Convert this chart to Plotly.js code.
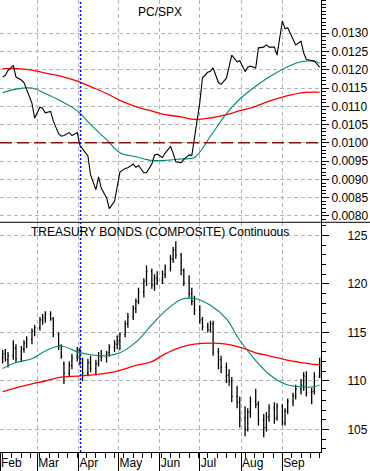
<!DOCTYPE html>
<html>
<head>
<meta charset="utf-8">
<script src="https://cdn.plot.ly/plotly-3.0.1.min.js"></script>
<style>html,body{margin:0;padding:0;background:#fff;}#chart{width:370px;height:471px;}</style>
</head>
<body>
<div id="chart"></div>
<script>
// ---- Data ----
// Every other trading day from 2003-02-03 to 2003-09-29
const firstTradingDay = '2003-02-03';
const barCount = 86;

// Treasury bonds (composite) OHLC
const bondOpen = [112.4,112.8,112.2,112.6,113.4,112.3,113.3,113.9,114.3,115.1,115.5,116.3,116.5,116.9,116.4,114.8,113.6,111.8,110.8,111.6,112.4,113.2,111.9,110.8,111.9,111.3,111.8,112.6,112.4,112.9,113.5,113.8,114.2,114.8,115.9,116.6,117.5,118.2,119.2,120.3,121.3,119.9,120.6,120.4,121.0,121.6,122.6,123.5,123.0,121.4,120.2,119.0,118.2,117.3,116.3,115.6,115.3,115.9,113.0,112.2,111.4,110.6,110.0,108.4,107.8,106.2,105.0,106.8,107.9,107.6,106.0,105.2,106.3,107.2,106.2,107.4,105.6,106.9,107.9,108.5,109.2,109.6,110.5,108.8,108.9,110.5];
const bondHigh = [113.2,113.3,113.0,114.2,113.8,113.6,114.2,114.6,115.4,115.8,116.6,116.9,117.2,117.2,116.6,115.0,113.8,112.0,112.0,112.8,113.5,113.4,112.4,112.3,112.6,112.2,113.0,113.2,113.1,113.8,114.2,114.7,115.0,116.2,117.0,117.8,118.5,119.6,120.6,121.9,121.6,121.0,121.3,121.4,122.0,123.0,123.8,124.4,123.2,121.6,120.9,119.6,118.8,117.8,116.6,116.0,116.2,116.2,113.4,112.6,111.9,111.2,110.4,109.5,108.4,107.4,107.2,108.4,109.2,107.9,106.6,106.8,107.6,107.8,107.7,107.6,107.2,108.2,108.8,109.6,110.2,110.9,111.0,109.3,110.9,112.4];
const bondLow = [111.8,112.0,111.4,112.2,111.9,112.0,112.9,113.4,113.8,114.6,115.2,115.8,116.0,116.2,114.5,113.2,112.3,109.7,110.4,111.2,112.0,111.6,110.0,110.5,110.9,110.6,111.5,112.0,111.9,112.5,113.0,113.3,113.2,114.5,115.5,116.3,117.0,117.9,118.6,119.8,119.5,119.3,119.9,120.0,120.6,121.3,122.2,122.6,120.9,119.8,118.6,117.8,116.8,115.9,115.2,115.0,115.0,112.6,111.2,110.8,109.8,109.5,107.8,107.2,105.2,104.3,104.8,106.2,107.2,105.4,104.2,104.8,105.8,105.6,105.9,105.4,105.4,106.6,107.4,108.1,108.6,109.0,108.4,107.6,108.6,110.3];
const bondClose = [112.8,112.2,112.6,113.4,112.3,113.3,113.9,114.3,115.1,115.5,116.3,116.5,116.9,116.4,114.8,113.6,112.6,110.8,111.6,112.4,113.2,111.9,110.8,111.9,111.3,111.8,112.6,112.4,112.9,113.5,113.8,114.2,114.8,115.9,116.6,117.5,118.2,119.2,120.3,121.3,119.9,120.6,120.4,121.0,121.6,122.6,123.5,123.0,121.4,120.2,119.0,118.2,117.3,116.3,115.6,115.3,115.9,113.0,112.2,111.4,110.6,110.0,108.4,107.8,106.2,105.0,106.8,107.9,107.6,106.0,105.2,106.3,107.2,106.2,107.4,105.8,106.9,107.9,108.5,109.2,109.6,110.5,108.8,108.9,110.5,111.6];

// PC/SPX ratio
const ratio = [0.01180,0.01185,0.01198,0.01212,0.01180,0.01172,0.01165,0.01145,0.01108,0.01068,0.01098,0.01094,0.01082,0.01086,0.01060,0.01025,0.01018,0.01020,0.01028,0.01020,0.01028,0.00993,0.00983,0.00964,0.00912,0.00872,0.00907,0.00876,0.00850,0.00820,0.00840,0.00885,0.00920,0.00930,0.00932,0.00942,0.00933,0.00938,0.00918,0.00918,0.00942,0.00966,0.00969,0.00960,0.00972,0.00990,0.00972,0.00948,0.00946,0.00955,0.00967,0.00965,0.01015,0.01110,0.01178,0.01193,0.01196,0.01205,0.01165,0.01160,0.01177,0.01210,0.01240,0.01222,0.01225,0.01195,0.01207,0.01210,0.01205,0.01260,0.01262,0.01268,0.01262,0.01262,0.01240,0.01334,0.01312,0.01315,0.01284,0.01268,0.01278,0.01246,0.01228,0.01224,0.01224,0.01207];

// Moving averages, sampled every 4th bar (plus the last bar)
const maStep = 4;
const ratioMaFast = [0.01137,0.01147,0.01150,0.01135,0.01114,0.01088,0.01050,0.01009,0.00973,0.00962,0.00952,0.00952,0.00956,0.00960,0.01018,0.01080,0.01120,0.01155,0.01180,0.01205,0.01222,0.01223,0.01218];
const ratioMaSlow = [0.01203,0.01203,0.01199,0.01191,0.01182,0.01169,0.01154,0.01135,0.01116,0.01099,0.01087,0.01077,0.01071,0.01064,0.01068,0.01077,0.01088,0.01100,0.01114,0.01127,0.01137,0.01139,0.01139];
const bondMaFast = [111.3,111.9,112.3,113.1,113.6,113.0,112.7,112.6,112.9,114.0,115.8,117.2,118.4,118.5,117.8,116.4,114.2,112.1,110.7,109.7,109.4,109.4,109.6];
const bondMaSlow = [108.9,109.3,109.7,110.0,110.4,110.5,110.6,110.8,111.1,111.6,112.0,112.8,113.5,113.8,113.9,113.8,113.5,112.9,112.6,112.2,111.9,111.7,111.7];

// Axis tick labels
const ratioTicks = [0.0080,0.0085,0.0090,0.0095,0.0100,0.0105,0.0110,0.0115,0.0120,0.0125,0.0130];
const bondTicks = [105,110,115,120,125];

const refLevel = 0.0100;
const markerDate = '2003-04-02 12:00';
const xRange = ['2003-02-01', '2003-09-30'];
const topTitle = 'PC/SPX';
const bottomTitle = 'TREASURY BONDS (COMPOSITE) Continuous';

// ---- Build dates (every other weekday) ----
function everyOtherWeekday(start, n) {
  const out = [];
  const d = new Date(start + 'T12:00:00Z');
  let count = 0;
  while (out.length < n) {
    const wd = d.getUTCDay();
    if (wd !== 0 && wd !== 6) {
      if (count % 2 === 0) out.push(d.toISOString().slice(0, 10));
      count++;
    }
    d.setUTCDate(d.getUTCDate() + 1);
  }
  return out;
}
const dates = everyOtherWeekday(firstTradingDay, barCount);
const maDates = ratioMaFast.map((_, i) => dates[Math.min(i * maStep, dates.length - 1)]);

const FONT = 'Arial, "Liberation Sans", sans-serif';
const teal = '#00897a';
const red = '#ff0000';

const traces = [
  {type: 'scatter', mode: 'lines', x: maDates, y: ratioMaSlow, xaxis: 'x', yaxis: 'y2',
   line: {color: red, width: 1.3, shape: 'spline'}, hoverinfo: 'skip'},
  {type: 'scatter', mode: 'lines', x: maDates, y: ratioMaFast, xaxis: 'x', yaxis: 'y2',
   line: {color: teal, width: 1.1, shape: 'spline'}, hoverinfo: 'skip'},
  {type: 'scatter', mode: 'lines', x: dates, y: ratio, xaxis: 'x', yaxis: 'y2',
   line: {color: '#000', width: 1.1}},
  {type: 'scatter', mode: 'lines', x: maDates, y: bondMaSlow, xaxis: 'x', yaxis: 'y',
   line: {color: red, width: 1.3, shape: 'spline'}, hoverinfo: 'skip'},
  {type: 'scatter', mode: 'lines', x: maDates, y: bondMaFast, xaxis: 'x', yaxis: 'y',
   line: {color: teal, width: 1.1, shape: 'spline'}, hoverinfo: 'skip'},
  {type: 'ohlc', x: dates, open: bondOpen, high: bondHigh, low: bondLow, close: bondClose,
   xaxis: 'x', yaxis: 'y', tickwidth: 0.35,
   increasing: {line: {color: '#000', width: 1.3}},
   decreasing: {line: {color: '#000', width: 1.3}}}
];

const split = 0.5082;
const gridDash = '4px,3px';
const gridColor = '#b4b4b4';

const layout = {
  width: 370, height: 471,
  margin: {l: 0, r: 49, t: 0, b: 19},
  paper_bgcolor: '#fff', plot_bgcolor: '#fff',
  showlegend: false,
  font: {family: FONT, size: 12, color: '#000'},
  xaxis: {
    type: 'date', range: xRange, anchor: 'y',
    rangeslider: {visible: false},
    tickmode: 'linear', tick0: '2003-02-01', dtick: 'M1', tickformat: '%b',
    ticks: 'outside', ticklen: 19, tickwidth: 1, tickcolor: '#000',
    ticklabelposition: 'outside right',
    showline: true, linecolor: '#000', linewidth: 1,
    showgrid: true, gridcolor: gridColor, griddash: gridDash, gridwidth: 1,
    zeroline: false,
    minor: {tick0: '2003-02-03', dtick: 7 * 86400000, ticks: 'outside', ticklen: 5, tickcolor: '#000', showgrid: false},
    tickfont: {family: FONT, size: 12, color: '#000'}
  },
  yaxis: {
    domain: [0, split], range: [102.68, 126.36], side: 'right', anchor: 'x',
    tickmode: 'array', tickvals: bondTicks,
    ticks: 'outside', ticklen: 7, tickcolor: '#000',
    showline: true, linecolor: '#000', linewidth: 1,
    showgrid: true, gridcolor: gridColor, griddash: gridDash, zeroline: false,
    minor: {tickmode: 'linear', tick0: 0, dtick: 1, ticks: 'outside', ticklen: 4, tickcolor: '#000', showgrid: false},
    ticklabelstandoff: 16,
    tickfont: {family: FONT, size: 12, color: '#000'}
  },
  yaxis2: {
    domain: [split, 1], range: [0.007825, 0.01391], side: 'right', anchor: 'x',
    tickmode: 'array', tickvals: ratioTicks, tickformat: '.4f',
    ticks: 'outside', ticklen: 7, tickcolor: '#000',
    showline: true, linecolor: '#000', linewidth: 1,
    showgrid: true, gridcolor: gridColor, griddash: gridDash, zeroline: false,
    minor: {tickmode: 'linear', tick0: 0, dtick: 0.0001, ticks: 'outside', ticklen: 4, tickcolor: '#000', showgrid: false},
    tickfont: {family: FONT, size: 12, color: '#000'}
  },
  shapes: [
    {type: 'line', xref: 'paper', yref: 'y2', x0: 0, x1: 1, y0: refLevel, y1: refLevel,
     line: {color: '#8b1010', width: 1.5, dash: '12px,5px'}},
    {type: 'line', xref: 'x', yref: 'paper', x0: markerDate, x1: markerDate, y0: 0, y1: 1,
     line: {color: '#0000ff', width: 1.5, dash: '2px,2px'}},
    {type: 'line', xref: 'paper', yref: 'paper', x0: 0, x1: 370 / 321, y0: split, y1: split,
     line: {color: '#000', width: 1}}
  ],
  annotations: [
    {xref: 'paper', yref: 'paper', x: 160 / 321, y: 1 - 12 / 452, text: topTitle, showarrow: false,
     xanchor: 'center', yanchor: 'middle', font: {family: FONT, size: 12, color: '#000'}},
    {xref: 'paper', yref: 'paper', x: 160 / 321, y: 1 - 232 / 452, text: bottomTitle, showarrow: false,
     xanchor: 'center', yanchor: 'middle', font: {family: FONT, size: 12, color: '#000'}}
  ]
};

Plotly.newPlot('chart', traces, layout, {displayModeBar: false, staticPlot: true});
</script>
</body>
</html>
